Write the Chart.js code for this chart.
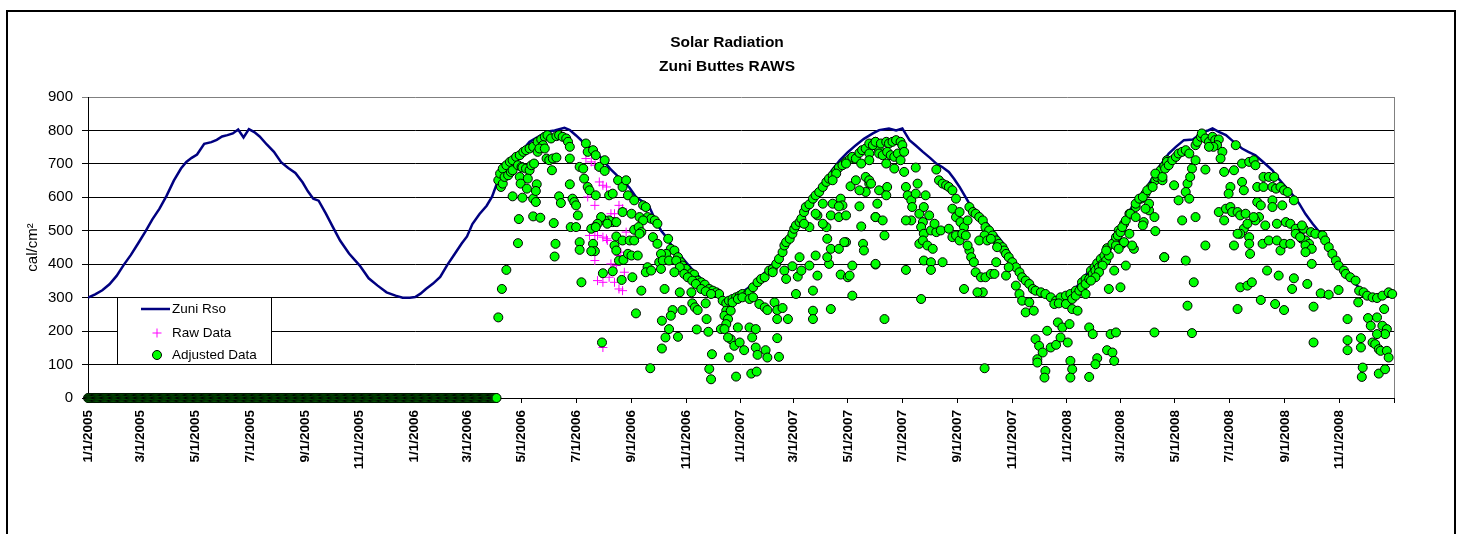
<!DOCTYPE html>
<html>
<head>
<meta charset="utf-8">
<title>Solar Radiation - Zuni Buttes RAWS</title>
<script src="https://cdn.jsdelivr.net/npm/chart.js@4/dist/chart.umd.min.js"></script>
<style>
  html, body { margin: 0; padding: 0; background: #fff; overflow: hidden; }
  #wrap { width: 1458px; height: 534px; }
</style>
</head>
<body>
<div id="wrap"><canvas id="chartSolar" width="1458" height="534"></canvas></div>
<script>
// x values are days counted from 1/1/2005
const titleLines = ['Solar Radiation', 'Zuni Buttes RAWS'];
const yTitle = 'cal/cm\u00b2';
const tickDays = [0, 59, 120, 181, 243, 304, 365, 424, 485, 546, 608, 669, 730, 789, 850, 911, 973, 1034, 1095, 1155, 1216, 1277, 1339, 1400, 1461];
const tickLabels = ['1/1/2005', '3/1/2005', '5/1/2005', '7/1/2005', '9/1/2005', '11/1/2005',
  '1/1/2006', '3/1/2006', '5/1/2006', '7/1/2006', '9/1/2006', '11/1/2006',
  '1/1/2007', '3/1/2007', '5/1/2007', '7/1/2007', '9/1/2007', '11/1/2007',
  '1/1/2008', '3/1/2008', '5/1/2008', '7/1/2008', '9/1/2008', '11/1/2008', ''];

// Zuni Rso (clear sky radiation)
const rsoPts = [[0,300],[8,310],[16,322],[24,340],[32,365],[40,398],[48,428],[56,462],[64,497],[72,534],[80,566],[88,605],[96,650],[104,686],[110,706],[116,718],[122,728],[130,760],[138,765],[144,772],[150,782],[156,786],[162,791],[168,803],[174,779],[180,804],[186,795],[192,782],[200,758],[208,736],[216,705],[224,688],[232,673],[240,645],[246,618],[252,596],[258,590],[266,552],[274,511],[282,471],[292,432],[304,396],[314,358],[324,336],[334,316],[344,306],[352,300],[360,300],
  [366,302],[372,312],[378,326],[386,342],[394,362],[402,398],[410,430],[418,462],[424,483],[430,520],[438,550],[446,575],[452,602],[460,660],[468,690],[476,708],[484,735],[494,766],[504,782],[513,796],[522,800],[533,808],[539,801],[546,785],[552,770],[560,752],[566,740],[574,718],[584,686],[592,665],[598,651],[606,628],[613,601],[620,588],[628,571],[634,536],[641,501],[648,478],[654,451],[662,428],[669,406],[678,378],[688,351],[697,330],[706,311],[714,295],[722,298],
  [729,311],[738,328],[747,346],[756,372],[766,401],[774,421],[783,465],[792,511],[802,548],[811,581],[822,636],[832,680],[841,711],[850,735],[859,756],[868,775],[878,791],[885,801],[896,806],[904,800],[911,806],[919,771],[926,755],[934,736],[942,718],[949,701],[956,690],[963,676],[969,655],[975,631],[986,581],[997,551],[1004,528],[1012,501],[1020,475],[1027,451],[1034,418],[1042,386],[1050,356],[1057,331],[1064,314],[1072,301],[1080,297],[1087,296],[1094,302],
  [1101,316],[1110,345],[1120,381],[1128,405],[1135,431],[1144,468],[1154,511],[1161,540],[1168,571],[1178,606],[1187,641],[1198,690],[1209,731],[1217,751],[1226,771],[1236,773],[1242,785],[1247,796],[1253,800],[1258,806],[1265,796],[1273,786],[1282,765],[1291,746],[1298,736],[1306,726],[1315,705],[1325,681],[1332,655],[1340,631],[1348,606],[1355,581],[1362,550],[1370,521],[1378,495],[1385,471],[1392,436],[1399,401],[1406,376],[1414,351],[1422,330],[1429,316],[1436,308],[1444,301],[1452,304],[1459,311]];

// Raw Data, only where it differs from the adjusted values
const rawPts = [[557,716],[563,706],[567,696],[572,646],[576,636],[580,631],[559,601],[567,576],[585,551],[589,551],[594,576],[598,566],[602,496],[596,436],[594,426],[561,486],[567,486],[570,486],[576,481],[580,476],[581,471],[567,411],[585,401],[591,396],[600,376],[576,346],[589,346],[594,326],[598,321],[570,351],[576,151],[583,361],[565,506]];

// Adjusted Data: days with a zero reading before the station record starts
const zeroDays = [
  0,1,2,3,4,5,6,7,8,9,10,11,12,13,14,15,16,17,18,19,20,21,22,23,24,25,26,27,28,29,30,31,32,33,34,35,36,37,38,39,
  40,41,42,43,44,45,46,47,48,49,50,51,52,53,54,55,56,57,58,59,60,61,62,63,64,65,66,67,68,69,70,71,72,73,74,75,76,77,78,79,
  80,81,82,83,84,85,86,87,88,89,90,91,92,93,94,95,96,97,98,99,100,101,102,103,104,105,106,107,108,109,110,111,112,113,114,115,116,117,118,119,
  120,121,122,123,124,125,126,127,128,129,130,131,132,133,134,135,136,137,138,139,140,141,142,143,144,145,146,147,148,149,150,151,152,153,154,155,156,157,158,159,
  160,161,162,163,164,165,166,167,168,169,170,171,172,173,174,175,176,177,178,179,180,181,182,183,184,185,186,187,188,189,190,191,192,193,194,195,196,197,198,199,
  200,201,202,203,204,205,206,207,208,209,210,211,212,213,214,215,216,217,218,219,220,221,222,223,224,225,226,227,228,229,230,231,232,233,234,235,236,237,238,239,
  240,241,242,243,244,245,246,247,248,249,250,251,252,253,254,255,256,257,258,259,260,261,262,263,264,265,266,267,268,269,270,271,272,273,274,275,276,277,278,279,
  280,281,282,283,284,285,286,287,288,289,290,291,292,293,294,295,296,297,298,299,300,301,302,303,304,305,306,307,308,309,310,311,312,313,314,315,316,317,318,319,
  320,321,322,323,324,325,326,327,328,329,330,331,332,333,334,335,336,337,338,339,340,341,342,343,344,345,346,347,348,349,350,351,352,353,354,355,356,357,358,359,
  360,361,362,363,364,365,366,367,368,369,370,371,372,373,374,375,376,377,378,379,380,381,382,383,384,385,386,387,388,389,390,391,392,393,394,395,396,397,398,399,
  400,401,402,403,404,405,406,407,408,409,410,411,412,413,414,415,416,417,418,419,420,421,422,423,424,425,426,427,428,429,430,431,432,433,434,435,436,437,438,439,
  440,441,442,443,444,445,446,447,448,449,450,451,452,453,454,455,456,457];

// Adjusted Data from spring 2006 on
const adjustedPts = [
  [459,651],[461,671],[464,686],[468,696],[472,706],[475,711],[479,721],[483,726],[487,736],[490,741],[494,746],[498,751],[503,766],[507,773],[511,781],[514,786],[518,776],[524,783],[527,786],[531,781],[535,776],[537,766],[539,751],
  [462,631],[464,641],[466,661],[470,666],[473,676],[475,681],[481,696],[485,691],[486,689],[490,686],[494,681],[496,696],[499,701],[503,736],[509,756],[513,716],[516,711],[520,716],[524,719],[505,746],[511,746],
  [475,603],[486,599],[498,596],[501,586],[483,661],[492,656],[484,641],[491,626],[502,639],[501,619],[519,681],[527,603],[529,583],[521,523],[498,543],[506,539],[482,535],[481,463],[523,461],[522,423],[468,383],[463,326],[459,241],[539,639],[542,596],[544,586],[546,576],[548,546],[540,511],[546,511],[550,466],[550,443],[552,346],[539,716],
  [550,691],[554,686],[555,656],[557,761],[559,736],[565,741],[568,726],[572,691],[578,711],[578,679],[559,631],[561,621],[568,606],[583,606],[587,611],[593,651],[598,631],[602,651],[604,606],[598,556],[608,551],[611,591],[587,526],[583,531],[578,531],[574,541],[570,521],[567,511],[563,506],[568,511],[581,521],[591,526],[591,483],[589,456],[591,441],[594,411],[599,413],[604,431],[608,426],[615,426],[598,471],[606,471],[611,471],[611,503],[565,461],[567,439],[563,439],[576,373],[587,379],[597,353],[609,361],[575,166],[619,321],[613,253],
  [621,576],[624,571],[626,541],[630,536],[634,531],[637,521],[617,541],[621,531],[616,511],[619,496],[617,491],[632,481],[637,461],[649,476],[652,446],[647,431],[656,441],[660,421],[663,406],[665,396],[669,386],[675,373],[678,369],[682,351],[686,346],[690,339],[695,326],[699,321],[703,316],[706,311],[641,431],[639,406],[643,411],[650,411],[658,411],[662,391],[667,371],[671,361],[676,351],[680,341],[686,326],[691,319],[697,311],[626,391],[624,376],[630,381],[641,386],[645,326],[656,376],[662,316],[675,316],[676,283],[679,271],[682,263],[691,283],[665,263],[654,263],[652,246],[642,231],[650,206],[646,181],[660,183],[642,148],[692,236],[681,205],[694,198],[629,89],[698,131],[695,87],[697,56],
  [710,291],[714,283],[717,291],[721,296],[725,301],[729,306],[732,311],[736,306],[740,316],[744,331],[749,346],[753,356],[757,361],[762,381],[766,386],[714,261],[712,246],[716,236],[714,221],[708,206],[712,206],[719,261],[721,286],[727,296],[732,301],[740,296],[744,301],[751,281],[757,271],[760,263],[768,286],[771,263],[777,269],[771,236],[783,236],[719,176],[716,181],[723,156],[729,166],[717,121],[734,143],[727,211],[740,211],[747,206],[743,181],[747,151],[758,143],[749,129],[760,121],[773,123],[725,64],[742,73],[748,79],[771,179],
  [770,401],[773,416],[777,436],[779,456],[781,466],[785,476],[788,491],[790,506],[792,516],[796,526],[798,536],[801,556],[803,571],[807,579],[811,596],[814,606],[818,616],[822,631],[826,646],[829,656],[833,666],[837,679],[840,689],[844,696],[848,706],[852,714],[855,721],[859,716],[863,733],[866,741],[870,746],[874,731],[878,761],[881,766],[883,751],[885,741],
  [766,376],[779,381],[781,356],[788,394],[794,363],[798,381],[796,421],[807,396],[811,321],[816,366],[814,426],[829,401],[827,421],[831,446],[840,446],[842,369],[848,466],[850,361],[852,366],[855,306],[855,396],[846,466],[826,511],[822,521],[827,476],[792,311],[811,261],[811,236],[831,266],[816,546],[807,511],[801,521],[814,551],[831,546],[840,541],[848,546],[822,581],[833,581],[842,596],[844,576],[840,573],[853,633],[859,651],[870,661],[874,641],[870,616],[863,573],[865,513],[867,461],[868,441],[881,399],[881,541],[863,621],[837,671],[833,651],[848,701],[865,701],[874,711],
  [874,761],[878,756],[881,766],[887,761],[893,766],[896,761],[900,766],[904,771],[909,766],[911,756],[885,731],[889,726],[894,736],[898,726],[902,721],[906,731],[909,711],[913,736],[893,701],[902,686],[913,676],[926,689],[949,683],[952,651],[956,641],[960,636],[963,631],[967,621],[971,596],
  [874,651],[876,641],[885,621],[894,631],[893,606],[883,581],[881,541],[889,531],[891,486],[881,401],[891,236],[915,631],[917,606],[921,591],[922,571],[926,611],[928,641],[930,551],[935,571],[937,606],[941,546],[934,526],[932,511],[935,491],[930,461],[921,531],[915,531],[943,501],[949,496],[954,501],[947,521],[934,471],[939,456],[945,446],[935,411],[943,406],[943,383],[956,406],[915,383],[932,296],
  [967,566],[971,541],[975,556],[976,526],[980,511],[984,531],[986,571],[990,556],[993,551],[997,541],[1001,531],[1004,511],[1008,501],[1003,486],[1012,486],[1016,471],[1019,461],[1023,451],[1025,441],[1027,431],[1030,421],[1034,406],[1038,391],[1042,376],[1045,361],[1049,351],[1053,341],[1057,326],[1060,321],[1066,316],[1071,311],[1077,301],[1083,291],[1088,301],[1094,306],[1099,311],[1105,321],[1112,346],[1116,356],[1122,381],[1126,391],[1129,403],[1133,416],[1137,426],[1140,448],[1146,461],[1150,481],[1153,501],[1159,521],[1165,551],[1172,571],[1178,596],[1183,611],[1189,631],[1194,651],[1198,671],[1202,686],[1207,711],
  [963,506],[967,481],[971,486],[975,471],[978,491],[982,486],[986,441],[988,421],[991,406],[984,456],[993,376],[999,361],[1004,361],[1010,371],[1014,371],[1016,406],[1017,451],[1001,316],[995,316],[980,326],[1003,89],[997,471],[1006,471],[1010,476],[1027,366],[1030,391],[1038,336],[1042,311],[1045,291],[1049,256],[1053,286],[1058,261],[1060,176],[1064,156],[1068,136],[1062,116],[1062,106],[1071,81],[1070,61],[1073,201],[1077,151],[1083,159],[1085,226],[1088,181],[1090,211],[1096,166],[1098,221],[1099,111],[1101,86],[1099,61],[1081,281],[1086,283],[1094,281],[1101,266],[1107,261],[1120,211],[1124,191],[1129,119],[1127,101],[1120,63],[1140,143],[1146,136],[1148,111],[1144,191],[1150,196],[1142,326],[1155,331],[1161,396],[1148,381],[1170,446],[1168,456],[1157,461],[1181,526],[1187,561],[1193,541],[1194,499],[1204,421],[1193,196],
  [1101,296],[1105,306],[1109,321],[1112,331],[1116,341],[1120,356],[1124,371],[1127,381],[1131,391],[1135,401],[1139,411],[1142,426],[1150,456],[1152,486],[1155,496],[1157,511],[1161,531],[1166,551],[1172,581],[1176,596],[1180,601],[1185,621],[1191,631],[1196,661],[1200,681],[1204,693],[1207,706],[1194,671],[1202,651],[1187,581],[1183,566],[1180,516],[1172,541],[1165,491],[1159,466],[1153,446],[1139,441],[1135,396],[1131,376],[1127,361],[1122,351],[1116,311],
  [1202,661],[1205,686],[1209,696],[1213,711],[1217,721],[1220,731],[1224,736],[1228,741],[1232,731],[1239,756],[1241,766],[1245,781],[1246,791],[1250,776],[1254,766],[1258,781],[1261,771],[1265,773],[1263,756],[1269,736],[1267,716],[1259,751],[1254,751],[1284,756],[1291,701],[1299,706],[1304,711],[1306,696],
  [1215,636],[1220,591],[1230,641],[1228,616],[1232,596],[1235,686],[1233,661],[1239,711],[1250,683],[1224,531],[1239,541],[1250,456],[1228,411],[1204,421],[1237,346],[1230,276],[1235,194],[1271,676],[1282,681],[1278,631],[1276,611],[1291,646],[1293,621],[1308,631],[1315,631],[1315,661],[1321,661],[1327,661],[1325,631],[1329,626],[1334,631],[1338,621],[1342,616],[1349,591],[1325,591],[1325,571],[1336,576],[1308,586],[1312,576],[1310,541],[1306,531],[1317,516],[1330,521],[1340,526],[1345,521],[1351,506],[1355,491],[1358,476],[1362,471],[1366,461],[1360,506],[1368,496],[1373,491],[1381,486],[1384,471],[1388,451],[1392,431],[1396,411],[1399,396],[1405,381],[1407,371],[1412,361],[1418,351],[1422,321],[1427,316],[1431,306],[1437,301],[1442,299],[1448,306],[1455,316],[1459,311],
  [1351,491],[1356,481],[1362,456],[1369,446],[1362,436],[1369,401],[1358,516],[1265,556],[1271,531],[1273,566],[1278,571],[1280,556],[1286,556],[1289,546],[1295,551],[1293,506],[1289,491],[1297,521],[1299,481],[1299,461],[1300,431],[1286,491],[1282,456],[1314,461],[1321,471],[1330,471],[1334,441],[1338,461],[1345,461],[1304,541],[1319,381],[1332,366],[1349,358],[1347,326],[1364,341],[1289,331],[1297,336],[1302,346],[1312,293],[1328,281],[1338,263],[1286,266],[1371,273],[1379,313],[1388,309],[1399,323],[1421,286],[1409,236],[1432,239],[1442,241],[1450,266],[1435,216],[1448,216],[1453,206],[1451,191],[1442,191],[1437,166],[1440,161],[1444,146],[1446,141],[1453,141],[1455,121],[1424,179],[1424,151],[1409,173],[1409,143],[1426,91],[1425,63],[1444,73],[1451,86],[1371,166]
];

const FONT = '"Liberation Sans", Arial, sans-serif';
Chart.defaults.font.family = FONT;
Chart.defaults.color = '#000';

const toXY = (p) => ({ x: p[0], y: p[1] });

// frame, title, plot border and the boxed legend inside the plot
const decor = {
  id: 'decor',
  beforeDatasetsDraw(chart) {
    const { ctx, chartArea: a } = chart;
    ctx.save();
    ctx.strokeStyle = '#808080'; ctx.lineWidth = 1;
    ctx.beginPath(); ctx.moveTo(Math.round(a.right) + 0.5, a.top); ctx.lineTo(Math.round(a.right) + 0.5, a.bottom); ctx.stroke();
    ctx.restore();
  },
  afterDatasetsDraw(chart) {
    const ctx = chart.ctx; const ds = chart.data.datasets;
    ctx.save();
    ctx.fillStyle = '#fff'; ctx.fillRect(117, 297, 155, 68);
    ctx.strokeStyle = '#000'; ctx.lineWidth = 1; ctx.strokeRect(117.5, 297.5, 154, 67);
    ctx.strokeStyle = '#000080'; ctx.lineWidth = 2.5;
    ctx.beginPath(); ctx.moveTo(141, 309); ctx.lineTo(170, 309); ctx.stroke();
    ctx.strokeStyle = '#ff00ff'; ctx.lineWidth = 1;
    ctx.beginPath(); ctx.moveTo(152.5, 333); ctx.lineTo(161.5, 333); ctx.moveTo(157, 328.5); ctx.lineTo(157, 337.5); ctx.stroke();
    ctx.fillStyle = '#00ff00'; ctx.strokeStyle = '#000';
    ctx.beginPath(); ctx.arc(157, 355, 4.5, 0, Math.PI * 2); ctx.fill(); ctx.stroke();
    ctx.fillStyle = '#000'; ctx.font = '13.5px ' + FONT; ctx.textBaseline = 'middle'; ctx.textAlign = 'left';
    ctx.fillText(ds[0].label, 172, 309);
    ctx.fillText(ds[1].label, 172, 333);
    ctx.fillText(ds[2].label, 172, 355);
    ctx.restore();
  },
  afterDraw(chart) {
    const ctx = chart.ctx;
    ctx.save();
    ctx.strokeStyle = '#000'; ctx.lineWidth = 2;
    ctx.strokeRect(7, 11, 1448, 600);
    ctx.fillStyle = '#000'; ctx.font = 'bold 15.5px ' + FONT;
    ctx.textAlign = 'center'; ctx.textBaseline = 'middle';
    ctx.fillText(titleLines[0], 727, 43);
    ctx.fillText(titleLines[1], 727, 67);
    ctx.restore();
  }
};

new Chart(document.getElementById('chartSolar'), {
  type: 'scatter',
  data: {
    datasets: [
      { label: 'Zuni Rso', data: rsoPts.map(toXY), showLine: true, borderColor: '#000080', borderWidth: 2.5, pointRadius: 0, tension: 0, order: 3 },
      { label: 'Raw Data', data: rawPts.map(toXY), pointStyle: 'cross', pointRadius: 4.5, borderColor: '#ff00ff', backgroundColor: '#ff00ff', pointBorderWidth: 1, order: 2, clip: false },
      { label: 'Adjusted Data', data: zeroDays.map(d => ({ x: d, y: 0 })).concat(adjustedPts.map(toXY)), pointStyle: 'circle', pointRadius: 4.5, backgroundColor: '#00ff00', borderColor: '#000', pointBorderWidth: 1, order: 1, clip: false }
    ]
  },
  options: {
    responsive: false, animation: false, events: [],
    layout: { padding: { top: 97, right: 64, bottom: 0, left: 0 } },
    plugins: { legend: { display: false }, title: { display: false }, tooltip: { enabled: false } },
    scales: {
      x: {
        type: 'linear', min: 0, max: 1461,
        afterBuildTicks: (s) => { s.ticks = tickDays.map(v => ({ value: v })); },
        afterFit: (s) => { s.height = 136; },
        grid: { drawOnChartArea: false, drawTicks: true, tickLength: 5, color: '#000' },
        border: { color: '#000', width: 1 },
        ticks: { autoSkip: false, minRotation: 90, maxRotation: 90, padding: 7, font: { size: 13.5, weight: 'bold' },
          callback: (v) => { const i = tickDays.indexOf(v); return i >= 0 ? tickLabels[i] : ''; } }
      },
      y: {
        min: 0, max: 900,
        afterFit: (s) => { s.width = 88; },
        grid: { color: (c) => (c.tick && c.tick.value === 900 ? '#808080' : '#000'), tickLength: 6 },
        border: { color: '#000', width: 1 },
        ticks: { stepSize: 100, padding: 9, font: { size: 15 } },
        title: { display: true, text: yTitle, font: { size: 15 }, padding: { top: 24 } }
      }
    }
  },
  plugins: [decor]
});
</script>
</body>
</html>
